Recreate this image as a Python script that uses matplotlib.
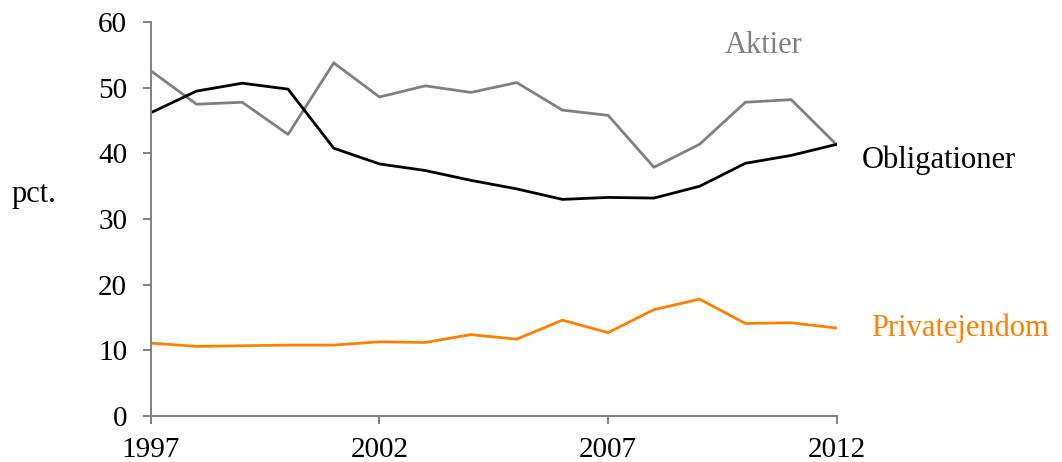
import matplotlib.pyplot as plt

years = list(range(1997, 2013))
aktier = [52.6, 47.5, 47.8, 42.9, 53.8, 48.6, 50.3, 49.3, 50.8, 46.6, 45.8, 37.9, 41.4, 47.8, 48.2, 41.3]
obligationer = [46.2, 49.5, 50.7, 49.8, 40.8, 38.4, 37.4, 35.9, 34.6, 33.0, 33.3, 33.2, 35.0, 38.5, 39.7, 41.4]
privatejendom = [11.1, 10.6, 10.7, 10.8, 10.8, 11.3, 11.2, 12.4, 11.7, 14.6, 12.7, 16.2, 17.8, 14.1, 14.2, 13.4]

plt.rcParams['font.family'] = ['Liberation Serif', 'DejaVu Serif']

fig = plt.figure(figsize=(10.62, 4.62), dpi=100)
ax = fig.add_axes([0.142, 0.0996, 0.646, 0.8524])

grey = '#808080'
orange = '#FF8000'
ax.plot(years, aktier, color=grey, lw=2)
ax.plot(years, obligationer, color='black', lw=2)
ax.plot(years, privatejendom, color=orange, lw=2)

ax.set_xlim(1997, 2012)
ax.set_ylim(0, 60)
ax.set_xticks([1997, 2002, 2007, 2012])
ax.set_yticks(range(0, 61, 10))
for s in ['top', 'right']:
    ax.spines[s].set_visible(False)
for s in ['left', 'bottom']:
    ax.spines[s].set_color(grey)
    ax.spines[s].set_linewidth(1.4)
ax.tick_params(axis='both', colors=grey, length=6, width=1.4, labelcolor='black', labelsize=21)
ax.tick_params(axis='y', pad=11)
ax.tick_params(axis='x', pad=9)

ax.text(2010.4, 56.4, 'Aktier', color=grey, fontsize=22, ha='center', va='center')
ax.text(2012.55, 39.0, 'Obligationer', color='black', fontsize=22, ha='left', va='center')
ax.text(2012.75, 13.3, 'Privatejendom', color=orange, fontsize=22, ha='left', va='center')
fig.text(0.011, 0.58, 'pct.', fontsize=22, ha='left', va='center')

plt.savefig('out.png', dpi=100)
